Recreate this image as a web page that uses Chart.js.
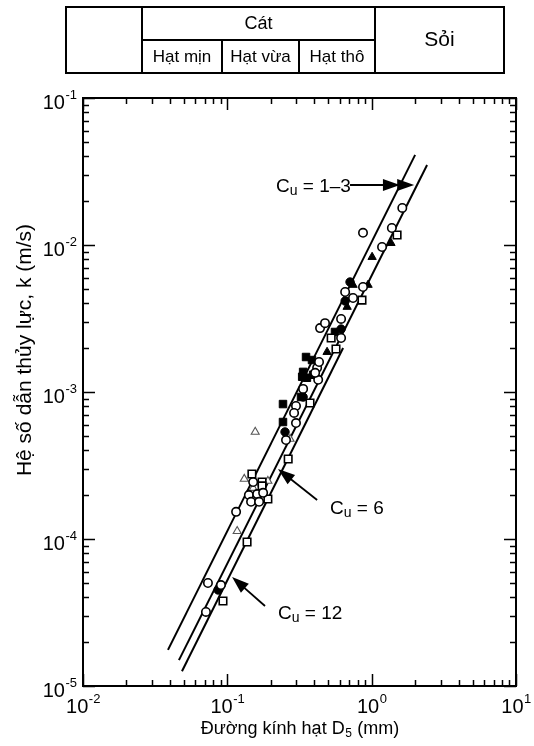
<!DOCTYPE html>
<html><head><meta charset="utf-8">
<script src="https://cdn.jsdelivr.net/npm/chart.js@4/dist/chart.umd.min.js"></script>
<style>
html,body{margin:0;padding:0;background:#fff;}
#wrap{position:relative;width:534px;height:746px;overflow:hidden;}
#c{position:absolute;left:0;top:0;}
.ln{position:absolute;background:#000;}
.tx{position:absolute;text-align:center;font-family:'Liberation Sans',Arial,sans-serif;color:#000;white-space:nowrap;}
</style></head>
<body><div id="wrap">
<canvas id="c" width="534" height="746"></canvas>
<div class="ln" style="left:65px;top:6px;width:440px;height:2px"></div>
<div class="ln" style="left:65px;top:72px;width:440px;height:2px"></div>
<div class="ln" style="left:65px;top:6px;width:2px;height:68px"></div>
<div class="ln" style="left:503px;top:6px;width:2px;height:68px"></div>
<div class="ln" style="left:141px;top:6px;width:2px;height:68px"></div>
<div class="ln" style="left:374px;top:6px;width:2px;height:68px"></div>
<div class="ln" style="left:141px;top:39px;width:235px;height:2px"></div>
<div class="ln" style="left:221px;top:39px;width:2px;height:35px"></div>
<div class="ln" style="left:298px;top:39px;width:2px;height:35px"></div>
<div class="tx" style="left:143px;top:12px;width:231px;font-size:18px;line-height:22px">Cát</div>
<div class="tx" style="left:376px;top:27px;width:127px;font-size:21px;line-height:24px">Sỏi</div>
<div class="tx" style="left:143px;top:46px;width:78px;font-size:17px;line-height:22px">Hạt mịn</div>
<div class="tx" style="left:223px;top:46px;width:75px;font-size:17px;line-height:22px">Hạt vừa</div>
<div class="tx" style="left:300px;top:46px;width:74px;font-size:17px;line-height:22px">Hạt thô</div>
</div>
<script>
// ---- axis ranges and tick data ----
const xMin = 0.01, xMax = 10;
const yMin = 1e-5, yMax = 0.1;
const xDecades = [-2, -1, 0, 1];
const yDecades = [-5, -4, -3, -2, -1];
const minorMult = [2, 3, 4, 5, 6, 7, 8, 9];
const xTitle = 'Đường kính hạt D';
const xTitleSub = '5';
const xTitleEnd = ' (mm)';
const yTitle = 'Hệ số dẫn thủy lực, k (m/s)';

// ---- measured points: D5 (mm) and k (m/s) ----
const openCircleX = [0.0734,0.0903,0.0711,0.115,0.151,0.141,0.161,0.177,0.146,0.166,0.255,0.299,0.290,0.299,0.335,0.419,0.426,0.432,0.406,0.439,0.475,0.614,0.614,0.655,0.743,0.871,1.18,1.38,0.871,1.63];
const openCircleY = [5.02e-5,4.86e-5,3.19e-5,1.53e-4,2.44e-4,1.99e-4,2.02e-4,2.06e-4,1.79e-4,1.79e-4,4.71e-4,8.03e-4,7.20e-4,6.15e-4,1.05e-3,1.46e-3,1.21e-3,1.60e-3,1.35e-3,2.72e-3,2.94e-3,3.14e-3,2.33e-3,4.79e-3,4.36e-3,5.18e-3,9.69e-3,1.305e-2,1.21e-2,1.786e-2];
const filledCircleX = [0.0863,0.251,0.335,0.614,0.655,0.708];
const filledCircleY = [4.50e-5,5.35e-4,9.25e-4,2.68e-3,4.16e-3,5.60e-3];
const openSquareX = [0.0933,0.137,0.148,0.174,0.174,0.191,0.264,0.374,0.524,0.566,0.857,1.50];
const openSquareY = [3.79e-5,9.55e-5,2.77e-4,2.44e-4,2.30e-4,1.87e-4,3.50e-4,8.41e-4,2.33e-3,1.96e-3,4.22e-3,1.17e-2];
const filledSquareX = [0.243,0.243,0.351,0.386,0.335,0.330,0.356,0.393,0.324,0.557];
const filledSquareY = [8.28e-4,6.25e-4,1.73e-3,1.65e-3,1.37e-3,1.27e-3,1.25e-3,1.31e-3,9.25e-4,2.56e-3];
const openTriangleX = [0.117,0.131,0.151,0.191,0.156,0.272,0.686];
const openTriangleY = [1.13e-4,2.56e-4,2.22e-4,2.48e-4,5.35e-4,4.79e-4,4.57e-3];
const filledTriangleX = [1.007,0.743,0.944,0.676,1.36,0.491];
const filledTriangleY = [8.28e-3,5.35e-3,5.35e-3,3.79e-3,1.03e-2,1.87e-3];

// ---- reference lines (end points) ----
const lineAX = [0.0388, 2.0],  lineAY = [1.76e-5, 0.041];
const lineBX = [0.0462, 2.42], lineBY = [1.50e-5, 0.035];
const lineCX = [0.0485, 0.634], lineCY = [1.26e-5, 1.99e-3];

// ---- annotations (data coords) ----
const labelTexts = ['= 1–3', '= 6', '= 12'];
const labelX = [0.2176, 0.515, 0.2244];
const labelY = [0.0256, 1.65e-4, 3.19e-5];
const arrowTailX = [0.708, 0.419, 0.1824];
const arrowTailY = [0.0256, 1.84e-4, 3.50e-5];
const arrowTipX = [1.97, 0.2244, 0.1079];
const arrowTipY = [0.0256, 2.99e-4, 5.51e-5];
const extraHeadX = [1.57, null, null];

const zip = (xs, ys) => xs.map((v, i) => ({x: v, y: ys[i]}));
const FONT = "'Liberation Sans', Arial, sans-serif";

function arrowHead(ctx, x1, y1, x2, y2, len, half) {
  const a = Math.atan2(y2 - y1, x2 - x1);
  ctx.beginPath();
  ctx.moveTo(x2, y2);
  ctx.lineTo(x2 - len * Math.cos(a) + half * Math.sin(a), y2 - len * Math.sin(a) - half * Math.cos(a));
  ctx.lineTo(x2 - len * Math.cos(a) - half * Math.sin(a), y2 - len * Math.sin(a) + half * Math.cos(a));
  ctx.closePath();
  ctx.fill();
}

const framePlugin = {
  id: 'frame',
  afterDraw(chart) {
    const {ctx, chartArea: {left, right, top, bottom}, scales: {x, y}} = chart;
    ctx.save();
    ctx.strokeStyle = '#000';
    ctx.fillStyle = '#000';
    ctx.lineWidth = 1.5;
    const majorLen = 12, minorLen = 6;
    ctx.beginPath();
    xDecades.forEach(e => {
      const vals = [[Math.pow(10, e), majorLen]];
      if (e < xDecades[xDecades.length - 1]) minorMult.forEach(m => vals.push([m * Math.pow(10, e), minorLen]));
      vals.forEach(([v, L]) => {
        const px = Math.round(x.getPixelForValue(v)) + 0.5;
        ctx.moveTo(px, bottom); ctx.lineTo(px, bottom - L);
        ctx.moveTo(px, top); ctx.lineTo(px, top + L);
      });
    });
    yDecades.forEach(e => {
      const vals = [[Math.pow(10, e), majorLen]];
      if (e < yDecades[yDecades.length - 1]) minorMult.forEach(m => vals.push([m * Math.pow(10, e), minorLen]));
      vals.forEach(([v, L]) => {
        const py = Math.round(y.getPixelForValue(v)) + 0.5;
        ctx.moveTo(left, py); ctx.lineTo(left + L, py);
        ctx.moveTo(right, py); ctx.lineTo(right - L, py);
      });
    });
    ctx.stroke();
    ctx.lineWidth = 2;
    ctx.strokeRect(left, top, right - left, bottom - top);

    // tick labels
    ctx.textBaseline = 'alphabetic';
    ctx.textAlign = 'left';
    xDecades.forEach(e => {
      const px = x.getPixelForValue(Math.pow(10, e));
      ctx.font = '20px ' + FONT;
      const w1 = ctx.measureText('10').width;
      ctx.font = '13px ' + FONT;
      const es = String(e);
      const w2 = ctx.measureText(es).width;
      const sx = px - (w1 + w2) / 2;
      ctx.font = '20px ' + FONT;
      ctx.fillText('10', sx, bottom + 27);
      ctx.font = '13px ' + FONT;
      ctx.fillText(es, sx + w1 + 0.5, bottom + 17);
    });
    yDecades.forEach(e => {
      const py = y.getPixelForValue(Math.pow(10, e));
      ctx.font = '13px ' + FONT;
      const es = String(e);
      const w2 = ctx.measureText(es).width;
      ctx.font = '20px ' + FONT;
      const w1 = ctx.measureText('10').width;
      const ex = left - 6;
      ctx.fillText('10', ex - w2 - w1 - 0.5, py + 11);
      ctx.font = '13px ' + FONT;
      ctx.fillText(es, ex - w2, py + 1);
    });

    // axis titles
    ctx.font = '18px ' + FONT;
    const t1 = ctx.measureText(xTitle).width;
    ctx.font = '12px ' + FONT;
    const t2 = ctx.measureText(xTitleSub).width;
    ctx.font = '18px ' + FONT;
    const t3 = ctx.measureText(xTitleEnd).width;
    const cx = (left + right) / 2;
    let sx = cx - (t1 + t2 + t3) / 2;
    const by = bottom + 48;
    ctx.fillText(xTitle, sx, by);
    ctx.font = '12px ' + FONT;
    ctx.fillText(xTitleSub, sx + t1 + 0.5, by + 3);
    ctx.font = '18px ' + FONT;
    ctx.fillText(xTitleEnd, sx + t1 + t2 + 1, by);

    ctx.save();
    ctx.translate(31, 350);
    ctx.rotate(-Math.PI / 2);
    ctx.textAlign = 'center';
    ctx.font = '21px ' + FONT;
    ctx.fillText(yTitle, 0, 0);
    ctx.restore();

    // annotations
    ctx.lineWidth = 1.8;
    labelTexts.forEach((t, i) => {
      const lx = x.getPixelForValue(labelX[i]);
      const ly = y.getPixelForValue(labelY[i]);
      ctx.font = '19px ' + FONT;
      ctx.textAlign = 'left';
      ctx.fillText('C', lx, ly + 7);
      const wc = ctx.measureText('C').width;
      ctx.font = '14px ' + FONT;
      ctx.fillText('u', lx + wc, ly + 10);
      const wu = ctx.measureText('u').width;
      ctx.font = '19px ' + FONT;
      ctx.fillText(' ' + t, lx + wc + wu, ly + 7);
      const x1 = x.getPixelForValue(arrowTailX[i]), y1 = y.getPixelForValue(arrowTailY[i]);
      const x2 = x.getPixelForValue(arrowTipX[i]), y2 = y.getPixelForValue(arrowTipY[i]);
      const a = Math.atan2(y2 - y1, x2 - x1);
      ctx.beginPath();
      ctx.moveTo(x1, y1);
      ctx.lineTo(x2 - 8 * Math.cos(a), y2 - 8 * Math.sin(a));
      ctx.stroke();
      arrowHead(ctx, x1, y1, x2, y2, 17, 6);
      if (extraHeadX[i] !== null) {
        const x3 = x.getPixelForValue(extraHeadX[i]);
        arrowHead(ctx, x1, y1, x3, y2, 17, 6);
      }
    });
    ctx.restore();
  }
};

const lineStyle = {showLine: true, borderColor: '#000', borderWidth: 2, pointRadius: 0, fill: false, order: 10};
const datasets = [
  Object.assign({label: 'A', data: zip(lineAX, lineAY)}, lineStyle),
  Object.assign({label: 'B', data: zip(lineBX, lineBY)}, lineStyle),
  Object.assign({label: 'C', data: zip(lineCX, lineCY)}, lineStyle),
  {label: 'oc', data: zip(openCircleX, openCircleY), pointStyle: 'circle', pointRadius: 4.2, backgroundColor: '#fff', borderColor: '#000', borderWidth: 1.6, order: 1},
  {label: 'fc', data: zip(filledCircleX, filledCircleY), pointStyle: 'circle', pointRadius: 4.2, backgroundColor: '#000', borderColor: '#000', borderWidth: 1, order: 1},
  {label: 'os', data: zip(openSquareX, openSquareY), pointStyle: 'rect', pointRadius: 5.3, backgroundColor: '#fff', borderColor: '#000', borderWidth: 1.6, order: 1},
  {label: 'fs', data: zip(filledSquareX, filledSquareY), pointStyle: 'rect', pointRadius: 5.3, backgroundColor: '#000', borderColor: '#000', borderWidth: 1, order: 1},
  {label: 'ot', data: zip(openTriangleX, openTriangleY), pointStyle: 'triangle', pointRadius: 4.6, backgroundColor: '#fff', borderColor: '#555', borderWidth: 1.1, order: 1},
  {label: 'ft', data: zip(filledTriangleX, filledTriangleY), pointStyle: 'triangle', pointRadius: 4.8, backgroundColor: '#000', borderColor: '#000', borderWidth: 1, order: 1}
];

new Chart(document.getElementById('c'), {
  type: 'scatter',
  data: {datasets},
  options: {
    responsive: false,
    animation: false,
    events: [],
    layout: {padding: {left: 83, top: 98, right: 18, bottom: 60}},
    plugins: {legend: {display: false}, tooltip: {enabled: false}},
    scales: {
      x: {type: 'logarithmic', min: xMin, max: xMax, display: true,
          ticks: {display: false}, grid: {display: false}, border: {display: false},
          afterFit(s) { s.height = 0; }},
      y: {type: 'logarithmic', min: yMin, max: yMax, display: true,
          ticks: {display: false}, grid: {display: false}, border: {display: false},
          afterFit(s) { s.width = 0; }}
    }
  },
  plugins: [framePlugin]
});
</script>
</body></html>
